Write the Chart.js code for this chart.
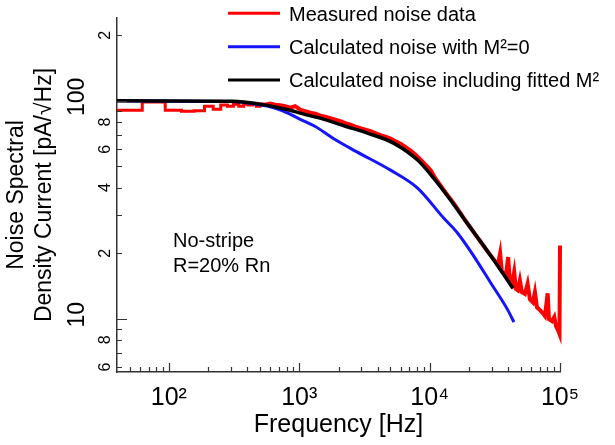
<!DOCTYPE html>
<html><head><meta charset="utf-8">
<script src="https://cdn.jsdelivr.net/npm/chart.js@4/dist/chart.umd.min.js"></script>
<style>html,body{margin:0;padding:0;background:#fff}#wrap{width:615px;height:445px}</style>
</head><body><div id="wrap"><canvas id="c" width="615" height="445"></canvas></div>
<script>
const FONT = "'Liberation Sans', Arial, sans-serif";

const seriesLabels = ['Measured noise data', 'Calculated noise with M\u00B2=0', 'Calculated noise including fitted M\u00B2'];

// Measured noise, low-frequency FFT bins (drawn as steps), Hz and pA/sqrt(Hz)
const measuredBinFreq = [31.25,62.5,93.75,125,156.25,187.5,218.75,250,281.25,312.5,343.75,375,406.25,437.5,468.75,500];
const measuredBinNoise = [90.6,98.8,90.6,89.7,90.0,94.5,91.6,95.6,94.5,96.6,94.5,96.6,95.6,96.6,94.5,96.6];

// Measured noise above 500 Hz
const measuredFreq = [500,548,598,654,714,780,853,931,1018,1112,1215,1328,1450,1585,1732,1892,2067,2258,2468,2697,2946,3219,3517,3842,4198,4586,
  5012,5476,5983,6537,7142,7803,8526,9316,10180,11120,12150,13280,14500,15850,17320,18920,20670,22580,24680,26970,29460,32190,
  33360,34740,35800,37090,38420,40030,41260,42740,44520,45860,47520,49240,51020,53800,56430,58780,61980,64220,66550,70200,
  73990,76660,80420,82300,86800,90410,93160,96520,99100,100000];
const measuredNoise = [96.6,96.1,97.1,96.1,95.6,94.6,93.1,94.6,91.1,89.7,88.3,87.4,85.5,84.6,83.3,82.0,80.7,79.0,77.8,76.2,74.9,73.8,72.6,71.1,69.6,68.5,
  67.1,65.3,63.6,61.3,59.1,56.6,53.7,50.9,48.1,43.9,40.8,37.9,35.4,32.9,30.4,28.1,26.1,24.2,22.5,20.9,19.5,18.2,
  17.6,20.0,16.5,16.2,15.7,19.2,14.7,14.3,16.4,13.7,13.5,15.0,13.25,13.0,14.5,12.3,11.9,13.25,11.3,10.96,
  10.6,10.3,13.1,9.97,9.76,10.2,9.26,8.87,8.51,21.7];

// Calculated noise with M^2 = 0
const calcFreq = [40,310,420,567,753,1018,1328,1826,2745,5012,8085,12810,16420,21800,29450,39810,44290];
const calcNoiseM0 = [100,99.2,97.6,94.6,89.7,82.3,76.3,67.2,58.5,48.1,39.8,29.0,24.7,19.4,14.6,10.96,9.66];

// Calculated noise including fitted M^2
const fitFreq = [40,310,500,853,1018,1530,2258,3336,5286,8085,10735,14500,19600,26030,35170,43500];
const fitNoise = [100,99.7,96.6,90.6,87.8,82.4,76.5,71.1,64.0,53.5,44.2,35.0,27.2,21.6,16.7,13.8];

const xMajorTicks = [100, 1000, 10000, 100000];
const xMajorLabels = ['10\u00B2', '10\u00B3', '10\u2074', '10\u2075'];
const xMinorTicks = [50,60,70,80,90,200,300,400,500,600,700,800,900,2000,3000,4000,5000,6000,7000,8000,9000,
  20000,30000,40000,50000,60000,70000,80000,90000];
const yMajorTicks = [10, 100];
const yMajorLabels = ['10', '100'];
const yLabelTicks = [6, 8, 20, 40, 60, 80, 200];
const yLabelTexts = ['6', '8', '2', '4', '6', '8', '2'];
const yMinorTicks = [6,7,8,9,20,30,40,50,60,70,80,90,200];
const annotationLines = ['No-stripe', 'R=20% Rn'];

const toXY = (xs, ys) => xs.map((x, i) => ({x, y: ys[i]}));
const lookup = (keys, vals) => { const m = {}; keys.forEach((k, i) => m[k] = vals[i]); return m; };
const xLabelMap = lookup(xMajorTicks, xMajorLabels);
const yMajMap = lookup(yMajorTicks, yMajorLabels);
const yMinMap = lookup(yLabelTicks, yLabelTexts);

Chart.defaults.font.family = FONT;
Chart.defaults.color = '#000';

const decor = {
  id: 'decor',
  afterDraw(chart) {
    const ctx = chart.ctx, xs = chart.scales.x, ys = chart.scales.y, a = chart.chartArea;
    ctx.save();
    ctx.strokeStyle = '#333';
    ctx.lineWidth = 1.2;
    ctx.beginPath();
    const xt = (v, len) => { const p = Math.round(xs.getPixelForValue(v)) + 0.5; ctx.moveTo(p, a.bottom); ctx.lineTo(p, a.bottom - len); };
    const yt = (v, len) => { const p = Math.round(ys.getPixelForValue(v)) + 0.5; ctx.moveTo(a.left, p); ctx.lineTo(a.left + len, p); };
    xMajorTicks.forEach(v => xt(v, 9));
    xMinorTicks.forEach(v => xt(v, 5));
    yMajorTicks.forEach(v => yt(v, 10));
    yMinorTicks.forEach(v => yt(v, 5));
    ctx.stroke();

    // annotation text
    ctx.fillStyle = '#000';
    ctx.font = '20px ' + FONT;
    ctx.textAlign = 'left';
    ctx.textBaseline = 'alphabetic';
    annotationLines.forEach((t, i) => ctx.fillText(t, a.left + 56, a.top + 229 + 25 * i));

    // legend (one entry per series label)
    const rows = [13.3, 46.7, 80];
    const seen = {};
    let r = 0;
    chart.data.datasets.forEach(ds => {
      if (seen[ds.label]) return;
      seen[ds.label] = true;
      const y = rows[r++];
      ctx.strokeStyle = ds.borderColor;
      ctx.lineWidth = 3;
      ctx.beginPath();
      ctx.moveTo(228, y);
      ctx.lineTo(280, y);
      ctx.stroke();
      ctx.fillStyle = '#000';
      ctx.fillText(ds.label, 289, y + 7.3);
    });
    ctx.restore();
  }
};

new Chart(document.getElementById('c'), {
  type: 'line',
  data: {
    datasets: [
      { label: seriesLabels[0], data: toXY(measuredBinFreq, measuredBinNoise), borderColor: '#ff0000', borderWidth: 3,
        stepped: true, pointRadius: 0, order: 4, clip: {left: 0, top: 5, right: 5, bottom: 0} },
      { label: seriesLabels[0], data: toXY(measuredFreq, measuredNoise), borderColor: '#ff0000', borderWidth: 4,
        borderJoinStyle: 'miter', pointRadius: 0, order: 3, clip: {left: 0, top: 5, right: 5, bottom: 0} },
      { label: seriesLabels[1], data: toXY(calcFreq, calcNoiseM0), borderColor: '#1414ff', borderWidth: 3,
        cubicInterpolationMode: 'monotone', pointRadius: 0, order: 2 },
      { label: seriesLabels[2], data: toXY(fitFreq, fitNoise), borderColor: '#000000', borderWidth: 3.5,
        cubicInterpolationMode: 'monotone', pointRadius: 0, order: 1 }
    ]
  },
  options: {
    responsive: false,
    animation: false,
    devicePixelRatio: 1,
    layout: { padding: { top: 18, right: 55, bottom: 0, left: 0 } },
    plugins: { legend: { display: false }, tooltip: { enabled: false } },
    scales: {
      x: {
        type: 'logarithmic', position: 'bottom', min: 40, max: 100000, bounds: 'data',
        afterBuildTicks: s => { s.ticks = xMajorTicks.map(v => ({value: v})); },
        afterFit: s => { s.height = 73; },
        ticks: { callback: v => xLabelMap[v], autoSkip: false, minRotation: 0, maxRotation: 0, padding: 11,
          font: { family: FONT, size: 25 }, color: '#000' },
        grid: { display: false, drawTicks: false },
        border: { display: true, color: '#333', width: 1.5 },
        title: { display: true, text: 'Frequency [Hz]', font: { family: FONT, size: 25 }, color: '#000',
          padding: { top: 0, bottom: 5 } }
      },
      y: {
        type: 'logarithmic', position: 'left', min: 5.7, max: 240, bounds: 'data', weight: 0,
        afterBuildTicks: s => { s.ticks = yLabelTicks.map(v => ({value: v})); },
        afterFit: s => { s.width = 20; },
        ticks: { callback: v => yMinMap[v], autoSkip: false, minRotation: 90, maxRotation: 90, crossAlign: 'center',
          padding: 6.5, font: { family: FONT, size: 16 }, color: '#000' },
        grid: { display: false, drawTicks: false },
        border: { display: true, color: '#333', width: 1.5 }
      },
      y2: {
        type: 'logarithmic', position: 'left', min: 5.7, max: 240, bounds: 'data', weight: 1,
        afterBuildTicks: s => { s.ticks = yMajorTicks.map(v => ({value: v})); },
        afterFit: s => { s.width = 97; },
        ticks: { callback: v => yMajMap[v], autoSkip: false, minRotation: 90, maxRotation: 90, crossAlign: 'center',
          padding: 0, labelOffset: -4, font: { family: FONT, size: 23 }, color: '#000' },
        grid: { display: false, drawTicks: false },
        border: { display: false },
        title: { display: true, text: ['Noise Spectral', 'Density Current [pA/\u221AHz]'],
          font: { family: FONT, size: 23, lineHeight: 1.2 }, color: '#000', padding: { top: 3, bottom: 0 } }
      }
    }
  },
  plugins: [decor]
});
</script></body></html>
